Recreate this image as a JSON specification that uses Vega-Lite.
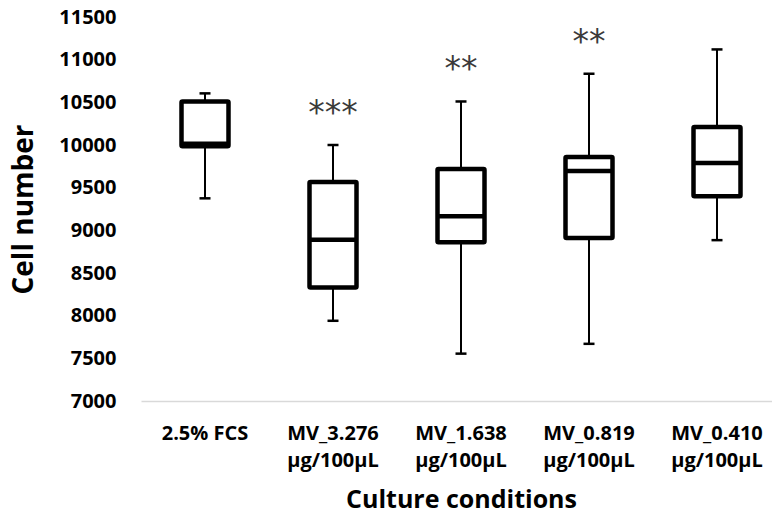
{
  "$schema": "https://vega.github.io/schema/vega-lite/v6.json",
  "width": 631,
  "height": 384,
  "autosize": {"type": "none"},
  "padding": {"left": 141, "top": 17, "right": 0, "bottom": 118},
  "background": "white",
  "config": {
    "view": {"stroke": null},
    "font": "Open Sans"
  },
  "data": {
    "values": [
      {"condition": "2.5% FCS", "min": 9375, "q1": 9985, "median": 10015, "q3": 10510, "max": 10605, "sig": ""},
      {"condition": "MV_3.276 µg/100µL", "min": 7940, "q1": 8330, "median": 8890, "q3": 9565, "max": 10000, "sig": "***"},
      {"condition": "MV_1.638 µg/100µL", "min": 7555, "q1": 8860, "median": 9165, "q3": 9720, "max": 10510, "sig": "**"},
      {"condition": "MV_0.819 µg/100µL", "min": 7670, "q1": 8910, "median": 9695, "q3": 9860, "max": 10835, "sig": "**"},
      {"condition": "MV_0.410 µg/100µL", "min": 8885, "q1": 9400, "median": 9790, "q3": 10210, "max": 11120, "sig": ""}
    ]
  },
  "encoding": {
    "x": {
      "field": "condition",
      "type": "nominal",
      "sort": null,
      "scale": {"range": [0, 640], "paddingInner": 0, "paddingOuter": 0},
      "axis": {
        "title": "Culture conditions",
        "titleFontSize": 25,
        "titleFontWeight": "bold",
        "titleColor": "black",
        "titlePadding": 17,
        "labelAngle": 0,
        "labelFontSize": 20,
        "labelFontWeight": "bold",
        "labelColor": "black",
        "labelPadding": 22,
        "labelLineHeight": 27,
        "labelLimit": 200,
        "labelExpr": "datum.label == '2.5% FCS' ? datum.label : split(datum.label, ' ')",
        "ticks": false,
        "domain": true,
        "domainColor": "#d9d9d9",
        "domainWidth": 1.5,
        "grid": false
      }
    }
  },
  "layer": [
    {
      "mark": {"type": "rule", "color": "black", "strokeWidth": 2},
      "encoding": {
        "y": {
          "field": "min",
          "type": "quantitative",
          "scale": {"domain": [7000, 11500], "nice": false, "zero": false},
          "axis": {
            "title": "Cell number",
            "titleFontSize": 28,
            "titleFontWeight": "bold",
            "titleColor": "black",
            "titlePadding": 20,
            "values": [7000, 7500, 8000, 8500, 9000, 9500, 10000, 10500, 11000, 11500],
            "labelFontSize": 20,
            "labelFontWeight": "bold",
            "labelColor": "black",
            "labelPadding": 25,
            "labelFlush": false,
            "labelOverlap": false,
            "format": "d",
            "ticks": false,
            "domain": false,
            "grid": false
          }
        },
        "y2": {"field": "max"}
      }
    },
    {
      "mark": {"type": "bar", "fill": "white", "stroke": "black", "strokeWidth": 4.5, "size": 47, "cornerRadius": 1, "opacity": 1},
      "encoding": {
        "y": {"field": "q1", "type": "quantitative"},
        "y2": {"field": "q3"}
      }
    },
    {
      "mark": {"type": "tick", "color": "black", "opacity": 1, "thickness": 4.5, "size": 49},
      "encoding": {
        "y": {"field": "median", "type": "quantitative"}
      }
    },
    {
      "mark": {"type": "tick", "color": "black", "opacity": 1, "thickness": 2.5, "size": 11},
      "encoding": {
        "y": {"field": "min", "type": "quantitative"}
      }
    },
    {
      "mark": {"type": "tick", "color": "black", "opacity": 1, "thickness": 2.5, "size": 11},
      "encoding": {
        "y": {"field": "max", "type": "quantitative"}
      }
    },
    {
      "mark": {"type": "text", "font": "DejaVu Sans", "fontSize": 33, "color": "#3a3a3a", "baseline": "middle", "dy": -31},
      "encoding": {
        "y": {"field": "max", "type": "quantitative"},
        "text": {"field": "sig"}
      }
    }
  ]
}
